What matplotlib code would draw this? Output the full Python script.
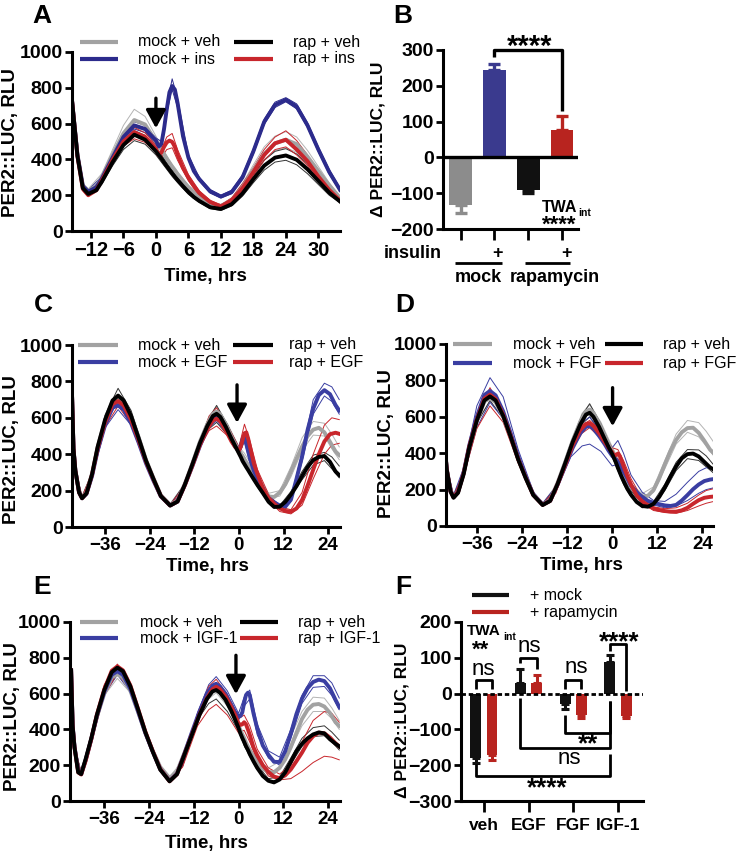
import matplotlib
matplotlib.use('Agg')
import matplotlib.pyplot as plt
from matplotlib.lines import Line2D

plt.rcParams['font.family'] = ['Liberation Sans', 'DejaVu Sans']
plt.rcParams['font.weight'] = 'bold'

# ---------------- DATA ----------------
# Panel A (insulin) time grid and group means
tA = [-15.5, -14.5, -13.5, -12.5, -11, -10, -8, -6, -4, -2, 0, 0.5, 1, 1.5, 2, 2.5, 3, 3.5, 4,
      5, 6, 7, 8, 10, 12, 14, 16, 18, 20, 22, 24, 26, 28, 30, 32, 34]
a_mock_veh = [730, 430, 255, 225, 250, 300, 425, 545, 620, 595, 500, 480, 455, 430, 405, 382, 360, 340, 318,
              280, 245, 215, 190, 152, 140, 170, 245, 340, 430, 490, 510, 485, 415, 335, 255, 185]
a_rap_veh = [730, 420, 240, 207, 228, 275, 385, 480, 538, 510, 445, 425, 405, 383, 362, 342, 322, 303, 285,
             250, 218, 190, 168, 133, 123, 150, 210, 290, 365, 410, 422, 398, 345, 280, 215, 165]
a_mock_ins = [730, 425, 250, 220, 245, 292, 410, 525, 590, 570, 505, 472, 485, 570, 680, 775, 810, 790, 715,
              530, 410, 335, 290, 222, 192, 218, 300, 445, 610, 705, 733, 695, 590, 455, 330, 230]
a_rap_ins = [730, 418, 235, 200, 228, 282, 398, 500, 553, 525, 460, 425, 438, 470, 495, 505, 498, 470, 425,
             352, 298, 252, 212, 162, 138, 172, 240, 330, 425, 490, 510, 455, 390, 305, 230, 170]
# Panel A replicate traces (upper / lower)
tA_rep = [-15.5, -14.5, -13.5, -12.5, -10, -8, -6, -4, -2, 0, 1, 2, 3, 4, 6, 8, 10, 12, 14, 16, 18, 20, 22,
          24, 26, 28, 30, 32, 34]
a_mock_veh_hi = [730, 435, 265, 235, 320, 455, 590, 680, 640, 530, 470, 420, 370, 330, 255, 200, 160, 148, 185,
                 265, 370, 470, 530, 555, 525, 450, 360, 270, 195]
a_mock_veh_lo = [725, 425, 245, 215, 285, 400, 510, 580, 560, 475, 430, 385, 340, 300, 235, 180, 145, 132, 160,
                 230, 315, 400, 450, 465, 440, 380, 305, 235, 175]
a_rap_veh_hi = [730, 425, 250, 215, 290, 405, 505, 560, 535, 465, 425, 380, 340, 300, 230, 178, 140, 130, 160,
                225, 315, 395, 445, 460, 430, 375, 300, 230, 175]
a_rap_veh_lo = [720, 415, 230, 200, 262, 365, 455, 505, 485, 425, 385, 345, 305, 270, 205, 160, 125, 115, 140,
                195, 270, 340, 385, 395, 370, 320, 260, 200, 158]
a_mock_ins_hi = [730, 430, 258, 228, 305, 430, 548, 610, 590, 520, 500, 700, 850, 740, 425, 300, 232, 200, 228,
                 315, 460, 625, 720, 745, 710, 605, 470, 345, 240]
a_mock_ins_lo = [725, 420, 245, 215, 285, 395, 505, 570, 550, 490, 470, 660, 790, 690, 395, 280, 212, 185, 208,
                 290, 430, 595, 690, 722, 682, 578, 442, 318, 222]
a_rap_ins_hi = [730, 422, 245, 210, 295, 415, 525, 578, 548, 480, 455, 525, 545, 455, 315, 225, 172, 145, 185,
                265, 355, 455, 525, 560, 505, 425, 330, 248, 180]
a_rap_ins_lo = [715, 412, 225, 192, 270, 380, 475, 515, 495, 440, 410, 455, 465, 395, 280, 198, 152, 128, 160,
                225, 305, 395, 455, 470, 425, 365, 285, 215, 160]

# Panels C-E shared time grids
tS = [-44.9, -44.5, -44, -43, -42.2, -41, -39.5, -38, -36, -34, -32.5, -31, -29, -27, -25, -23, -21, -18.5,
      -16.5, -14.5, -12.5, -10.5, -8.5, -7, -6, -5, -3.5, -2, -1, 0, 0.5, 1, 1.5, 2, 2.5, 3, 4, 5, 6.5, 8,
      9.5, 11, 12.5, 14, 15.5, 17, 18.5, 20, 21.5, 23, 24.5, 26, 27]
tS_rep = [-44.9, -44, -42.2, -39.5, -36, -32.5, -29, -25, -21, -18.5, -15, -11, -8, -6, -3, 0, 1.5, 3, 5, 8,
          11, 14, 17, 20, 23, 25, 27]

# Panel C (EGF)
c_mock_veh = [730, 435, 315, 195, 162, 190, 295, 440, 585, 690, 708, 685, 605, 495, 370, 270, 175, 122, 145, 240,
              350, 468, 565, 622, 635, 618, 562, 495, 455, 420, 405, 388, 372, 356, 340, 325, 290, 255, 205, 168,
              165, 190, 235, 305, 375, 442, 500, 535, 545, 520, 468, 415, 395]
c_rap_veh = [730, 430, 310, 190, 158, 185, 290, 440, 590, 695, 722, 695, 610, 490, 365, 265, 170, 118, 140, 235,
             345, 460, 555, 610, 622, 605, 550, 485, 445, 405, 385, 362, 345, 328, 312, 295, 262, 230, 185, 138,
             110, 112, 138, 178, 225, 280, 330, 368, 385, 390, 358, 305, 285]
c_mock_trt = [730, 430, 310, 190, 158, 182, 280, 420, 560, 655, 668, 645, 570, 465, 350, 255, 168, 118, 140, 232,
              335, 445, 540, 592, 605, 590, 540, 478, 440, 420, 445, 485, 490, 455, 415, 375, 310, 262, 200, 160,
              135, 118, 112, 150, 265, 387, 535, 650, 725, 752, 730, 670, 640]
c_rap_trt = [730, 430, 310, 190, 158, 185, 288, 432, 575, 675, 692, 668, 588, 478, 360, 262, 170, 118, 140, 232,
             338, 450, 538, 585, 595, 580, 530, 470, 440, 420, 440, 480, 515, 520, 485, 440, 350, 290, 210, 160,
             128, 103, 88, 84, 102, 149, 228, 315, 400, 470, 510, 518, 512]
c_mock_veh_hi = [730, 320, 170, 300, 600, 725, 625, 385, 185, 128, 225, 455, 610, 660, 565, 440, 405, 355, 280, 185,
                 200, 330, 490, 580, 570, 510, 440]
c_mock_veh_lo = [725, 305, 155, 285, 570, 690, 595, 360, 168, 115, 200, 430, 570, 610, 530, 405, 355, 305, 235, 155,
                 170, 275, 420, 505, 500, 430, 370]
c_rap_veh_hi = [730, 320, 165, 300, 615, 762, 640, 385, 180, 122, 225, 450, 600, 668, 560, 430, 385, 320, 245, 150,
                118, 195, 305, 395, 410, 385, 335]
c_rap_veh_lo = [725, 300, 150, 280, 570, 700, 590, 350, 165, 112, 195, 420, 540, 575, 505, 395, 350, 290, 220, 135,
                105, 170, 260, 340, 365, 320, 270]
c_mock_trt_hi = [730, 315, 162, 290, 580, 685, 590, 365, 175, 120, 215, 440, 585, 625, 550, 440, 520, 400, 290, 170,
                 122, 160, 410, 700, 790, 770, 700]
c_mock_trt_lo = [720, 300, 150, 275, 545, 645, 560, 340, 162, 112, 195, 415, 545, 585, 510, 400, 470, 350, 240, 150,
                 110, 140, 360, 620, 720, 690, 620]
c_rap_trt_hi = [730, 318, 165, 298, 595, 710, 610, 375, 178, 122, 215, 445, 610, 655, 555, 440, 565, 470, 315, 180,
                110, 95, 190, 400, 560, 600, 590]
c_rap_trt_lo = [720, 300, 150, 278, 550, 665, 565, 345, 162, 112, 190, 420, 530, 555, 500, 400, 480, 410, 265, 145,
                85, 72, 120, 265, 400, 450, 460]

# Panel D (FGF)
d_mock_veh = [730, 435, 315, 195, 160, 188, 292, 435, 575, 685, 702, 680, 600, 492, 368, 268, 175, 120, 142, 240,
              352, 470, 572, 630, 640, 622, 565, 495, 450, 410, 385, 358, 340, 320, 300, 283, 246, 212, 178, 162,
              166, 198, 262, 340, 413, 473, 515, 538, 540, 512, 468, 420, 400]
d_rap_veh = [730, 430, 310, 190, 155, 182, 285, 432, 580, 690, 712, 690, 605, 490, 365, 262, 170, 115, 138, 232,
             345, 462, 558, 612, 622, 600, 545, 478, 435, 395, 372, 348, 320, 295, 270, 248, 205, 172, 132, 110,
             106, 122, 160, 212, 272, 327, 372, 395, 398, 382, 352, 322, 310]
d_mock_trt = [730, 430, 310, 190, 158, 188, 295, 445, 600, 720, 742, 718, 630, 510, 380, 272, 172, 118, 138, 228,
              330, 430, 510, 545, 550, 535, 495, 450, 415, 385, 375, 365, 352, 335, 318, 300, 262, 222, 186, 160,
              138, 127, 120, 113, 110, 116, 140, 170, 202, 228, 247, 255, 258]
d_rap_trt = [730, 430, 310, 190, 158, 186, 290, 438, 585, 700, 722, 698, 612, 495, 368, 265, 170, 116, 138, 230,
             335, 445, 528, 560, 565, 550, 510, 462, 430, 405, 385, 390, 398, 385, 358, 330, 275, 228, 168, 135,
             113, 97, 88, 82, 79, 79, 86, 100, 122, 142, 155, 160, 162]
d_mock_veh_hi = [730, 322, 168, 300, 600, 720, 622, 380, 182, 125, 220, 460, 620, 665, 570, 435, 375, 305, 230, 178,
                 215, 360, 505, 580, 568, 520, 460]
d_mock_veh_lo = [725, 305, 155, 285, 570, 685, 590, 360, 168, 115, 200, 440, 580, 625, 535, 395, 325, 265, 195, 150,
                 185, 315, 450, 515, 490, 440, 385]
d_rap_veh_hi = [730, 320, 165, 298, 610, 738, 630, 380, 180, 120, 215, 455, 610, 672, 560, 420, 360, 275, 195, 120,
                135, 230, 350, 420, 418, 385, 335]
d_rap_veh_lo = [725, 300, 150, 280, 565, 690, 590, 350, 165, 110, 195, 425, 560, 600, 510, 380, 305, 230, 160, 100,
                110, 195, 305, 370, 360, 325, 290]
d_mock_trt_hi = [730, 330, 170, 320, 660, 815, 710, 420, 190, 125, 215, 440, 570, 598, 520, 430, 470, 400, 280, 185,
                 140, 135, 175, 240, 300, 320, 320]
d_mock_trt_lo = [720, 300, 152, 275, 540, 680, 590, 350, 165, 112, 190, 380, 440, 450, 410, 330, 340, 300, 230, 155,
                 115, 100, 110, 140, 180, 200, 210]
d_rap_trt_hi = [730, 318, 165, 295, 610, 760, 630, 375, 178, 120, 205, 440, 555, 580, 525, 430, 420, 360, 260, 150,
                105, 95, 100, 125, 170, 195, 205]
d_rap_trt_lo = [720, 300, 150, 275, 535, 660, 570, 345, 162, 112, 180, 410, 510, 540, 480, 390, 370, 315, 215, 125,
                85, 75, 70, 85, 110, 125, 135]

# Panel E (IGF-1)
e_mock_veh = [730, 425, 305, 170, 158, 230, 345, 470, 600, 690, 708, 690, 615, 500, 380, 280, 190, 128, 165, 270,
              378, 485, 572, 618, 625, 610, 570, 510, 465, 420, 396, 372, 352, 325, 305, 285, 250, 218, 180, 162,
              160, 185, 232, 300, 380, 458, 510, 538, 542, 528, 492, 440, 420]
e_rap_veh = [730, 420, 300, 160, 150, 235, 350, 480, 620, 720, 745, 725, 640, 515, 385, 275, 175, 110, 150, 260,
             370, 480, 570, 612, 620, 605, 565, 505, 458, 408, 377, 352, 330, 305, 286, 262, 222, 185, 140, 113,
             104, 120, 160, 218, 278, 320, 350, 372, 383, 378, 345, 320, 305]
e_mock_trt = [730, 425, 305, 170, 150, 228, 345, 475, 610, 705, 725, 705, 625, 505, 380, 275, 178, 112, 152, 265,
              385, 500, 600, 645, 655, 640, 600, 540, 500, 470, 475, 495, 550, 592, 605, 592, 490, 405, 310, 258,
              219, 218, 278, 375, 485, 572, 630, 665, 678, 670, 630, 565, 525]
e_rap_trt = [730, 420, 300, 160, 148, 225, 345, 482, 625, 728, 752, 730, 645, 518, 388, 278, 178, 110, 150, 260,
             372, 482, 575, 625, 638, 625, 585, 528, 485, 433, 425, 428, 440, 428, 400, 370, 300, 255, 200, 162,
             136, 128, 143, 176, 222, 270, 325, 362, 382, 378, 355, 322, 305]
e_mock_veh_hi = [730, 305, 160, 345, 615, 720, 630, 395, 195, 135, 225, 480, 600, 645, 570, 435, 355, 295, 230, 185,
                 220, 360, 500, 580, 575, 520, 450]
e_mock_veh_lo = [725, 295, 150, 335, 590, 685, 605, 370, 180, 122, 210, 455, 570, 605, 530, 405, 330, 270, 205, 160,
                 180, 290, 420, 500, 500, 460, 400]
e_rap_veh_hi = [730, 310, 155, 350, 630, 760, 650, 395, 185, 115, 215, 485, 620, 640, 545, 425, 340, 275, 200, 125,
                135, 240, 350, 410, 420, 385, 340]
e_rap_veh_lo = [725, 295, 145, 330, 600, 720, 620, 375, 170, 105, 195, 455, 545, 570, 500, 390, 310, 250, 175, 112,
                115, 205, 305, 360, 365, 330, 285]
e_mock_trt_hi = [730, 305, 155, 350, 625, 740, 645, 395, 185, 115, 212, 490, 650, 695, 615, 490, 580, 620, 430, 280,
                 245, 400, 590, 700, 700, 660, 575]
e_mock_trt_lo = [725, 295, 145, 330, 595, 705, 610, 370, 170, 108, 195, 460, 620, 640, 565, 450, 530, 570, 370, 240,
                 200, 350, 545, 635, 640, 590, 510]
e_rap_trt_hi = [730, 310, 155, 355, 650, 765, 660, 400, 185, 113, 212, 490, 640, 680, 595, 460, 480, 420, 290, 185,
                150, 200, 330, 450, 500, 490, 440]
e_rap_trt_lo = [720, 290, 142, 325, 590, 715, 615, 365, 168, 105, 190, 420, 510, 540, 480, 380, 395, 330, 230, 140,
                118, 125, 165, 215, 250, 245, 230]

# Panel B bars
b_groups = ['mock', 'mock + ins', 'rap', 'rap + ins']
b_values = [-134, 245, -92, 77]
b_errors = [22, 17, 8, 40]

# Panel F bars
f_categories = ['veh', 'EGF', 'FGF', 'IGF-1']
f_mock = [-180, 31, -28, 87]
f_mock_err = [14, 38, 16, 21]
f_rap = [-171, 31, -61, -63]
f_rap_err = [14, 22, 7, 6]

# ---------------- STYLE ----------------
W, H = 736, 855
GREY = '#a2a2a2'
GREY_THIN = '#b4b4b4'
NAVY = '#2c2b8c'
BLUE = '#3a3ea2'
RED = '#c8262c'
BLACK = '#000000'
BAR_GREY = '#8c8c8c'
BAR_BLUE = '#3a3a8e'
BAR_BLACK = '#111111'
BAR_RED = '#b8241f'

fig = plt.figure(figsize=(W / 100, H / 100), dpi=100)


def px_ax(l, t, r, b):
    return fig.add_axes([l / W, 1 - b / H, (r - l) / W, (b - t) / H])


def ftext(x, y, s, **kw):
    fig.text(x / W, 1 - y / H, s, **kw)


def fline(x0, x1, y0, y1, **kw):
    fig.add_artist(Line2D([x0 / W, x1 / W], [1 - y0 / H, 1 - y1 / H], transform=fig.transFigure,
                          solid_capstyle='butt', **kw))


def style(ax, xlabsize=14):
    for s in ['top', 'right']:
        ax.spines[s].set_visible(False)
    for s in ['left', 'bottom']:
        ax.spines[s].set_linewidth(2.2)
    ax.tick_params(direction='out', length=5, width=2, labelsize=14, pad=1.5)
    ax.tick_params(axis='x', labelsize=xlabsize, pad=2.5)


def legend(rows_y, h1, t1, h2, t2, labels, colors):
    fline(h1[0], h1[1], rows_y[0], rows_y[0], color=colors[0], lw=3)
    fline(h1[0], h1[1], rows_y[1], rows_y[1], color=colors[1], lw=3)
    fline(h2[0], h2[1], rows_y[0], rows_y[0], color=colors[2], lw=3)
    fline(h2[0], h2[1], rows_y[1], rows_y[1], color=colors[3], lw=3)
    ftext(t1, rows_y[0], labels[0], ha='left', va='center', fontsize=11.5, fontweight='normal')
    ftext(t1, rows_y[1], labels[1], ha='left', va='center', fontsize=11.5, fontweight='normal')
    ftext(t2, rows_y[0], labels[2], ha='left', va='center', fontsize=11.5, fontweight='normal')
    ftext(t2, rows_y[1], labels[3], ha='left', va='center', fontsize=11.5, fontweight='normal')


def traces(ax, t, tr, means, reps, colors, thin_colors):
    for (hi, lo), c in zip(reps, thin_colors):
        ax.plot(tr, hi, color=c, lw=0.7)
        ax.plot(tr, lo, color=c, lw=0.7)
    for m, c in zip(means, colors):
        ax.plot(t, m, color=c, lw=2.8, solid_joinstyle='round')


def arrow(ax, x, y0, y1):
    ax.annotate('', xy=(x, y1), xytext=(x, y0),
                arrowprops=dict(arrowstyle='-|>,head_length=0.55,head_width=0.3', lw=2.4, color='k',
                                shrinkA=0, shrinkB=0, mutation_scale=20))


def panel_label(x, y, s):
    ftext(x, y, s, ha='center', va='center', fontsize=19)


# ---------------- PANEL A ----------------
axA = px_ax(72, 52, 340, 231)
traces(axA, tA, tA_rep,
       [a_mock_veh, a_mock_ins, a_rap_ins, a_rap_veh],
       [(a_mock_veh_hi, a_mock_veh_lo), (a_rap_veh_hi, a_rap_veh_lo),
        (a_mock_ins_hi, a_mock_ins_lo), (a_rap_ins_hi, a_rap_ins_lo)],
       [GREY, NAVY, RED, BLACK], [GREY_THIN, '#333333', NAVY, RED])
axA.set_xlim(-15.5, 34)
axA.set_ylim(0, 1000)
axA.set_xticks([-12, -6, 0, 6, 12, 18, 24, 30])
axA.set_yticks([0, 200, 400, 600, 800, 1000])
style(axA, 14.5)
arrow(axA, 0, 742, 574)
legend((42, 59), (80, 118), 138, (234, 273), 293,
       ['mock + veh', 'mock + ins', 'rap + veh', 'rap + ins'], [GREY, NAVY, BLACK, RED])
ftext(11, 143, 'PER2::LUC, RLU', rotation=90, ha='center', va='center', fontsize=13.5)
ftext(205, 281, 'Time, hrs', ha='center', va='baseline', fontsize=13.5)
panel_label(42, 16, 'A')

# ---------------- PANEL B ----------------
axB = px_ax(443, 50, 578, 229)
xb = list(range(len(b_values)))
bcols = [BAR_GREY, BAR_BLUE, BAR_BLACK, BAR_RED]
axB.bar(xb, b_values, width=0.67, color=bcols, zorder=2)
for i in xb:
    v, e = b_values[i], b_errors[i]
    yerr = [[0], [e]] if v > 0 else [[e], [0]]
    axB.errorbar([i], [v], yerr=yerr, fmt='none', ecolor=bcols[i], elinewidth=2.4, capsize=4, capthick=2.4,
                 zorder=1)
axB.axhline(0, color='k', lw=2.4, zorder=3)
axB.set_xlim(-0.52, 3.47)
axB.set_ylim(-200, 300)
axB.set_yticks([-200, -100, 0, 100, 200, 300])
axB.set_xticks(xb)
axB.set_xticklabels([])
style(axB)
axB.tick_params(axis='x', length=8)
axB.plot([1, 1, 3, 3], [281, 300, 300, 131], color='k', lw=2.4, clip_on=False, solid_capstyle='butt')
ftext(530, 55, '****', ha='center', va='baseline', fontsize=21)
ftext(541.7, 212, 'TWA', ha='left', va='baseline', fontsize=11.5)
ftext(578, 216, 'int', ha='left', va='baseline', fontsize=7.5)
ftext(559, 231, '****', ha='center', va='baseline', fontsize=16)
ftext(413, 258, 'insulin', ha='center', va='baseline', fontsize=13)
ftext(498, 258, '+', ha='center', va='baseline', fontsize=13)
ftext(567, 258, '+', ha='center', va='baseline', fontsize=13)
fline(455, 502, 263, 263, color='k', lw=2)
fline(525, 570, 263, 263, color='k', lw=2)
ftext(478, 281.5, 'mock', ha='center', va='baseline', fontsize=13)
ftext(555, 281.5, 'rapamycin', ha='center', va='baseline', fontsize=13)
ftext(378, 139, '\u0394 PER2::LUC, RLU', rotation=90, ha='center', va='center', fontsize=12.5)
panel_label(403, 16, 'B')


# ---------------- PANELS C, D, E ----------------
def time_panel(rect, means, reps, xlim):
    ax = px_ax(*rect)
    traces(ax, tS, tS_rep, means, reps, [GREY, BLUE, RED, BLACK], [GREY_THIN, '#333333', BLUE, RED])
    ax.set_xlim(*xlim)
    ax.set_ylim(0, 1000)
    ax.set_xticks([-36, -24, -12, 0, 12, 24])
    ax.set_yticks([0, 200, 400, 600, 800, 1000])
    style(ax, 13.5)
    return ax


axC = time_panel((72, 345, 340, 527),
                 [c_mock_veh, c_mock_trt, c_rap_trt, c_rap_veh],
                 [(c_mock_veh_hi, c_mock_veh_lo), (c_rap_veh_hi, c_rap_veh_lo),
                  (c_mock_trt_hi, c_mock_trt_lo), (c_rap_trt_hi, c_rap_trt_lo)], (-44.9, 27.2))
arrow(axC, -0.5, 781, 572)
legend((345, 362), (78, 118), 138, (233, 273), 289,
       ['mock + veh', 'mock + EGF', 'rap + veh', 'rap + EGF'], [GREY, BLUE, BLACK, RED])
ftext(11.5, 450, 'PER2::LUC, RLU', rotation=90, ha='center', va='center', fontsize=13.5)
ftext(207, 571, 'Time, hrs', ha='center', va='baseline', fontsize=13.5)
panel_label(43, 305, 'C')

axD = time_panel((446, 344, 713, 526),
                 [d_mock_veh, d_mock_trt, d_rap_trt, d_rap_veh],
                 [(d_mock_veh_hi, d_mock_veh_lo), (d_rap_veh_hi, d_rap_veh_lo),
                  (d_mock_trt_hi, d_mock_trt_lo), (d_rap_trt_hi, d_rap_trt_lo)], (-44.2, 26.8))
arrow(axD, 0.1, 760, 548)
legend((344, 363), (453, 492), 513, (605, 643), 663,
       ['mock + veh', 'mock + FGF', 'rap + veh', 'rap + FGF'], [GREY, BLUE, BLACK, RED])
ftext(387, 444, 'PER2::LUC, RLU', rotation=90, ha='center', va='center', fontsize=13.5)
ftext(581, 570, 'Time, hrs', ha='center', va='baseline', fontsize=13.5)
panel_label(405, 305, 'D')

axE = time_panel((70, 622, 340, 801),
                 [e_mock_veh, e_mock_trt, e_rap_trt, e_rap_veh],
                 [(e_mock_veh_hi, e_mock_veh_lo), (e_rap_veh_hi, e_rap_veh_lo),
                  (e_mock_trt_hi, e_mock_trt_lo), (e_rap_trt_hi, e_rap_trt_lo)], (-45.2, 27.2))
arrow(axE, -0.7, 814, 597)
legend((622, 638), (80, 118), 140, (240, 278), 298,
       ['mock + veh', 'mock + IGF-1', 'rap + veh', 'rap + IGF-1'], [GREY, BLUE, BLACK, RED])
ftext(13, 717, 'PER2::LUC, RLU', rotation=90, ha='center', va='center', fontsize=13.5)
ftext(206, 848, 'Time, hrs', ha='center', va='baseline', fontsize=13.5)
panel_label(42, 587, 'E')

# ---------------- PANEL F ----------------
axF = px_ax(461, 622, 643, 801)
xf = list(range(len(f_categories)))
off, bw = 0.183, 0.245
for i in xf:
    for v, e, dx, c in [(f_mock[i], f_mock_err[i], -off, BAR_BLACK), (f_rap[i], f_rap_err[i], off, BAR_RED)]:
        axF.bar(i + dx, v, width=bw, color=c, zorder=2)
        yerr = [[0], [e]] if v > 0 else [[e], [0]]
        axF.errorbar([i + dx], [v], yerr=yerr, fmt='none', ecolor=c, elinewidth=2.2, capsize=3, capthick=2.2,
                     zorder=1)
axF.axhline(0, color='k', lw=2, linestyle=(0, (1.6, 1.0)), zorder=3)
axF.set_xlim(-0.51, 3.56)
axF.set_ylim(-300, 200)
axF.set_yticks([-300, -200, -100, 0, 100, 200])
axF.set_xticks(xf)
axF.set_xticklabels(f_categories)
style(axF, 12.5)
axF.tick_params(axis='x', length=8, pad=4)


def bracket(xs, ys):
    axF.plot(xs, ys, color='k', lw=2, clip_on=False, solid_capstyle='butt', zorder=4)


bracket([-off, -off, off, off], [12, 38, 38, 12])
bracket([1 - off, 1 - off, 1 + off, 1 + off], [85, 100, 100, 69])
bracket([2 - off, 2 - off, 2 + off, 2 + off], [12, 38, 38, 12])
bracket([3 - off, 3 - off, 3 + off, 3 + off], [120, 139, 139, 8])
bracket([2 - off, 2 - off, 3 - off, 3 - off], [-60, -110, -110, -20])
bracket([1 - off, 1 - off, 3 - off, 3 - off], [-12, -152, -152, -20])
bracket([-off, -off, 3 - off, 3 - off], [-197, -229, -229, -170])

ftext(466.7, 635, 'TWA', ha='left', va='baseline', fontsize=11)
ftext(503, 640, 'int', ha='left', va='baseline', fontsize=7.5)
ftext(481, 655.5, '**', ha='center', va='baseline', fontsize=16)
ftext(483, 675, 'ns', ha='center', va='baseline', fontsize=16, fontweight='normal')
ftext(529, 651.7, 'ns', ha='center', va='baseline', fontsize=16, fontweight='normal')
ftext(576.7, 673, 'ns', ha='center', va='baseline', fontsize=16, fontweight='normal')
ftext(619, 649.5, '****', ha='center', va='baseline', fontsize=18.5)
ftext(588, 751, '**', ha='center', va='baseline', fontsize=18.5)
ftext(569, 764, 'ns', ha='center', va='baseline', fontsize=16, fontweight='normal')
ftext(546.7, 795, '****', ha='center', va='baseline', fontsize=18.5)

fline(472, 509, 595, 595, color=BAR_BLACK, lw=3)
fline(472, 509, 612, 612, color=BAR_RED, lw=3)
ftext(530, 595, '+ mock', ha='left', va='center', fontsize=11.5, fontweight='normal')
ftext(530, 612, '+ rapamycin', ha='left', va='center', fontsize=11.5, fontweight='normal')
ftext(402, 720, '\u0394 PER2::LUC, RLU', rotation=90, ha='center', va='center', fontsize=12.5)
panel_label(403, 587, 'F')

fig.savefig('out.png', dpi=100)
